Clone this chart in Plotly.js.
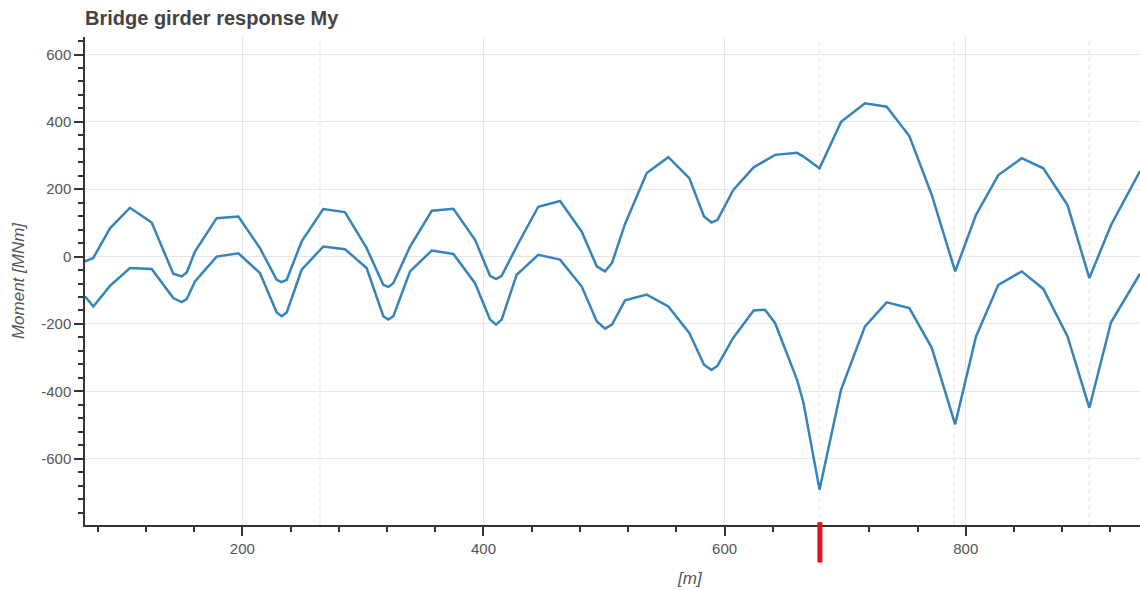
<!DOCTYPE html>
<html>
<head>
<meta charset="utf-8">
<script src="https://cdn.plot.ly/plotly-3.0.1.min.js"></script>
<style>
  html, body { margin: 0; padding: 0; background: #fff; }
  #chart { width: 1140px; height: 590px; }
</style>
</head>
<body>
<div id="chart"></div>
<script>
// Position along bridge [m]
const stationM = [69.5, 76.4, 90.2, 106.8, 124.8, 142.7, 149.7, 153.9, 160.7, 178.7,
  196.7, 214.6, 228.5, 232.6, 236.8, 249.2, 267.1, 285.1, 303.1, 316.9,
  321.1, 325.2, 339.1, 357.1, 375.0, 393.0, 405.4, 410.4, 415.1, 427.5,
  445.4, 463.5, 481.5, 493.9, 500.8, 506.6, 517.4, 535.4, 553.3, 570.7,
  582.9, 589.1, 594.1, 607.2, 624.1, 633.5, 641.8, 660.1, 665.4, 678.7,
  696.6, 716.4, 734.4, 753.2, 771.8, 791.2, 808.5, 827.0, 846.4, 864.3,
  884.4, 902.5, 920.5, 944.5];

// Max envelope of girder moment My [MNm]
const myMax = [-14, -4, 84, 145, 101, -51, -59, -47, 15, 114,
  119, 25, -69, -76, -69, 45, 141, 132, 25, -84,
  -90, -79, 30, 136, 142, 50, -57, -67, -57, 30,
  148, 165, 74, -29, -44, -19, 97, 248, 295, 233,
  119, 101, 109, 198, 265, 284, 302, 308, 297, 262,
  400, 455, 445, 358, 183, -44, 124, 242, 292, 262,
  153, -64, 94, 254];

// Min envelope of girder moment My [MNm]
const myMin = [-118, -148, -87, -34, -37, -123, -135, -126, -74, 0,
  10, -49, -166, -177, -166, -39, 30, 22, -34, -177,
  -187, -177, -44, 18, 8, -79, -187, -202, -187, -54,
  5, -9, -89, -192, -214, -202, -130, -113, -148, -227,
  -321, -337, -324, -241, -160, -158, -197, -366, -434, -692,
  -395, -207, -136, -153, -271, -498, -237, -84, -44, -96,
  -237, -449, -195, -51];

// Support / reference positions (dashed verticals) and selected section marker
const supportX = [264.4, 678.5, 790.2, 902.2];
const markerX = 679;

// Tick labels
const yTickVals = [600, 400, 200, 0, -200, -400, -600];
const yTickText = ['600', '400', '200', '0', '-200', '-400', '-600'];
const xTickVals = [200, 400, 600, 800];
const xTickText = ['200', '400', '600', '800'];

const lineColor = '#3584bb';
const axisColor = '#333333';
const textColor = '#555555';
const gridColor = '#e6e6e6';
const fontFam = '"Liberation Sans", Arial, sans-serif';

const traces = [
  { x: stationM, y: myMax, type: 'scatter', mode: 'lines', name: 'max',
    line: { color: lineColor, width: 2.5 }, hoverinfo: 'x+y' },
  { x: stationM, y: myMin, type: 'scatter', mode: 'lines', name: 'min',
    line: { color: lineColor, width: 2.5 }, hoverinfo: 'x+y' }
];

const shapes = supportX.map(function (sx, i) {
  return { type: 'line', xref: 'x', yref: 'paper', x0: sx, x1: sx, y0: 0, y1: 1,
    layer: 'below', line: { color: i === 0 ? '#dde1e6' : '#d6e5f2', width: 1, dash: '4px,4px' } };
});
shapes.push({ type: 'line', xref: 'x', yref: 'paper', x0: markerX, x1: markerX,
  y0: -0.077, y1: 0.006, line: { color: '#e4151b', width: 5 } });

const layout = {
  width: 1140, height: 590,
  margin: { l: 85, r: 0, t: 37, b: 65, pad: 0 },
  paper_bgcolor: '#ffffff', plot_bgcolor: '#ffffff',
  showlegend: false,
  font: { family: fontFam, color: textColor, size: 15 },
  title: { text: 'Bridge girder response My', x: 0, xref: 'paper', xanchor: 'left',
    y: 0.969, yref: 'container', yanchor: 'middle',
    font: { family: fontFam, size: 20, color: '#444444', weight: 'bold' } },
  xaxis: {
    range: [69.5, 944.5], tickmode: 'array', tickvals: xTickVals, ticktext: xTickText,
    showline: true, linecolor: axisColor, linewidth: 1.5, zeroline: false,
    ticks: 'outside', ticklen: 9, tickwidth: 2, tickcolor: axisColor,
    showgrid: true, gridcolor: gridColor, gridwidth: 1,
    minor: { dtick: 40, tick0: 0, ticks: 'outside', ticklen: 5, tickwidth: 1.5, tickcolor: axisColor, showgrid: false },
    tickfont: { family: fontFam, size: 15, color: textColor }
  },
  yaxis: {
    range: [-797, 652], tickmode: 'array', tickvals: yTickVals, ticktext: yTickText,
    showline: true, linecolor: axisColor, linewidth: 1.5, zeroline: false,
    ticks: 'outside', ticklen: 9, tickwidth: 2, tickcolor: axisColor,
    showgrid: true, gridcolor: gridColor, gridwidth: 1,
    minor: { dtick: 40, tick0: 0, ticks: 'outside', ticklen: 5, tickwidth: 1.5, tickcolor: axisColor, showgrid: false },
    tickfont: { family: fontFam, size: 15, color: textColor },
    title: { text: 'Moment [MNm]', standoff: 12, font: { family: fontFam, size: 17, color: textColor, style: 'italic' } }
  },
  annotations: [
    { text: '[m]', xref: 'paper', yref: 'paper', x: 0.573, y: -0.109,
      xanchor: 'center', yanchor: 'middle', showarrow: false,
      font: { family: fontFam, size: 17, color: textColor, style: 'italic' } }
  ],
  shapes: shapes
};

Plotly.newPlot('chart', traces, layout, { displayModeBar: false, responsive: false });
</script>
</body>
</html>
